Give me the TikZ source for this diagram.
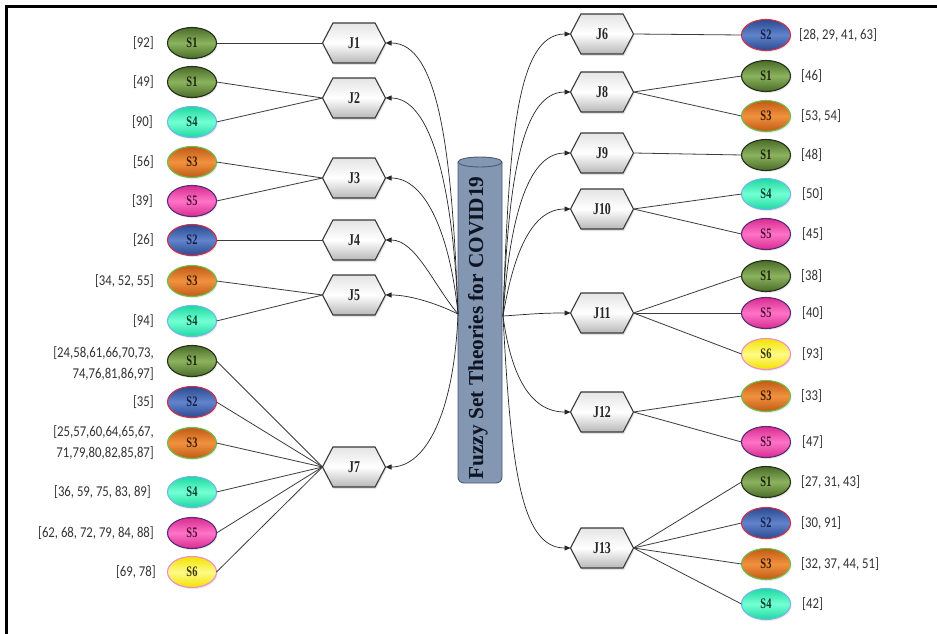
\documentclass[tikz,border=0pt]{standalone}
\usepackage{fontspec}
\setmainfont{Liberation Serif}
\newfontfamily\labelfont{Carlito}[FakeStretch=0.85]
\newfontfamily\condserif{Liberation Serif}[FakeStretch=0.72]
\usetikzlibrary{shapes.geometric,shapes.symbols,arrows.meta,shadows}

% oval palettes: dark rim, light band, edge, text
\definecolor{sAdark}{HTML}{4A6B28}\definecolor{sAlight}{HTML}{8CB35E}\definecolor{sAedge}{HTML}{24301A}\definecolor{sAtext}{HTML}{18220E}
\definecolor{sBdark}{HTML}{2A4A90}\definecolor{sBlight}{HTML}{6284CC}\definecolor{sBedge}{HTML}{D0304A}\definecolor{sBtext}{HTML}{141E46}
\definecolor{sCdark}{HTML}{C05A15}\definecolor{sClight}{HTML}{F0923F}\definecolor{sCedge}{HTML}{6CC04A}\definecolor{sCtext}{HTML}{3E1A06}
\definecolor{sDdark}{HTML}{1ED8A0}\definecolor{sDlight}{HTML}{74FFD4}\definecolor{sDedge}{HTML}{6FB8E8}\definecolor{sDtext}{HTML}{08402A}
\definecolor{sEdark}{HTML}{D82C90}\definecolor{sElight}{HTML}{FF74C6}\definecolor{sEedge}{HTML}{5A2A7A}\definecolor{sEtext}{HTML}{4E0C36}
\definecolor{sFdark}{HTML}{F2E200}\definecolor{sFlight}{HTML}{FFFA88}\definecolor{sFedge}{HTML}{F08CC8}\definecolor{sFtext}{HTML}{3A3A00}
\definecolor{hexTop}{HTML}{E4E4E4}\definecolor{hexBot}{HTML}{B8B8B8}\definecolor{hexEdge}{HTML}{3A3A3A}
\definecolor{cylFill}{HTML}{8397B2}\definecolor{cylEdge}{HTML}{4C5A70}\definecolor{cylText}{HTML}{0E1422}
\definecolor{lblGray}{HTML}{333333}\definecolor{lineGray}{HTML}{3C3C3C}

\begin{document}
\begin{tikzpicture}[x=1pt,y=-1pt,
  oval/.style={ellipse, minimum width=49pt, minimum height=31pt, inner sep=0pt, outer sep=0pt,
    line width=1.1pt, font=\condserif\bfseries\fontsize{14.5}{14.5}\selectfont,
    drop shadow={opacity=0.18, shadow xshift=1pt, shadow yshift=-1.5pt}},
  ovS1/.style={oval, draw=sAedge, top color=sAdark, bottom color=sAdark, middle color=sAlight, text=sAtext},
  ovS2/.style={oval, draw=sBedge, top color=sBdark, bottom color=sBdark, middle color=sBlight, text=sBtext},
  ovS3/.style={oval, draw=sCedge, top color=sCdark, bottom color=sCdark, middle color=sClight, text=sCtext},
  ovS4/.style={oval, draw=sDedge, top color=sDdark, bottom color=sDdark, middle color=sDlight, text=sDtext},
  ovS5/.style={oval, draw=sEedge, top color=sEdark, bottom color=sEdark, middle color=sElight, text=sEtext},
  ovS6/.style={oval, draw=sFedge, top color=sFdark, bottom color=sFdark, middle color=sFlight, text=sFtext},
  hexa/.style={signal, signal to=east and west, signal pointer angle=125,
    minimum width=63pt, minimum height=40pt, inner sep=0pt, outer sep=0pt,
    draw=hexEdge, line width=1.1pt, top color=hexTop, bottom color=hexBot, middle color=white,
    font=\condserif\bfseries\fontsize{16.5}{16.5}\selectfont, text=black!85,
    drop shadow={opacity=0.22, shadow xshift=1pt, shadow yshift=-2pt}},
  lblL/.style={anchor=east, inner sep=0pt, text=lblGray, align=right, font=\labelfont\fontsize{15}{21}\selectfont},
  lblR/.style={anchor=west, inner sep=0pt, text=lblGray, align=left, font=\labelfont\fontsize{15}{21}\selectfont},
  link/.style={draw=lineGray, line width=0.8pt},
  feed/.style={draw=black!85, line width=0.7pt, -{Triangle[length=6pt,width=5pt]}}
]
\useasboundingbox (0,0) rectangle (937,634);
\fill[white] (0,0) rectangle (937,634);

% frame along the top and left edges
\draw[line width=2.6pt, line join=miter] (6.5,634) -- (6.5,6.5) -- (937,6.5);

% central cylinder
\fill[cylFill] (458,162) {[rounded corners=6pt] -- (458,483) -- (502,483)} -- (502,162) -- cycle;
\draw[cylEdge, line width=0.9pt] (458,162) {[rounded corners=6pt] -- (458,483) -- (502,483)} -- (502,162);
\filldraw[fill=cylFill, draw=cylEdge, line width=0.9pt] (480,162) ellipse [x radius=22pt, y radius=5pt];
\node[rotate=90, text=cylText, font=\bfseries\fontsize{21.3}{21.3}\selectfont] (title) at (478,328) {Fuzzy Set Theories for COVID19};
\coordinate (hubL) at (458,314);
\coordinate (hubR) at (503,316);

% left-hand source ovals
\node[ovS1] (L1) at (192,43) {S1};
\node[ovS1] (L2) at (192,82) {S1};
\node[ovS4] (L3) at (192,122) {S4};
\node[ovS3] (L4) at (192,162) {S3};
\node[ovS5] (L5) at (192,201) {S5};
\node[ovS2] (L6) at (192,240) {S2};
\node[ovS3] (L7) at (192,281) {S3};
\node[ovS4] (L8) at (192,321) {S4};
\node[ovS1] (L9) at (192,361) {S1};
\node[ovS2] (L10) at (192,402) {S2};
\node[ovS3] (L11) at (192,443) {S3};
\node[ovS4] (L12) at (192,492) {S4};
\node[ovS5] (L13) at (192,533) {S5};
\node[ovS6] (L14) at (192,572) {S6};

% left-hand reference labels
\node[lblL] (tL1) at (154,43) {[92]};
\node[lblL] (tL2) at (154,82) {[49]};
\node[lblL] (tL3) at (153,122) {[90]};
\node[lblL] (tL4) at (154,162) {[56]};
\node[lblL] (tL5) at (153,201) {[39]};
\node[lblL] (tL6) at (154,240) {[26]};
\node[lblL] (tL7) at (154,281) {[34, 52, 55]};
\node[lblL] (tL8) at (154,321) {[94]};
\node[lblL] (tL9) at (154,363.5) {[24,58,61,66,70,73,\\74,76,81,86,97]};
\node[lblL] (tL10) at (154,402) {[35]};
\node[lblL] (tL11) at (154,442.5) {[25,57,60,64,65,67,\\71,79,80,82,85,87]};
\node[lblL] (tL12) at (151,492) {[36, 59, 75, 83, 89]};
\node[lblL] (tL13) at (154,533) {[62, 68, 72, 79, 84, 88]};
\node[lblL] (tL14) at (156,572) {[69, 78]};

% left-hand hexagons
\node[hexa] (J1) at (354,43) {J1};
\node[hexa] (J2) at (354,98) {J2};
\node[hexa] (J3) at (354,178) {J3};
\node[hexa] (J4) at (354,240) {J4};
\node[hexa] (J5) at (354,295) {J5};
\node[hexa] (J7) at (354,467) {J7};

% right-hand hexagons
\node[hexa] (J6) at (602,34) {J6};
\node[hexa] (J8) at (602,92) {J8};
\node[hexa] (J9) at (602,153) {J9};
\node[hexa] (J10) at (602,209) {J10};
\node[hexa] (J11) at (602,313) {J11};
\node[hexa] (J12) at (602,412) {J12};
\node[hexa] (J13) at (602,548) {J13};

% right-hand source ovals
\node[ovS2] (R1) at (766,35) {S2};
\node[ovS1] (R2) at (766,76) {S1};
\node[ovS3] (R3) at (766,116) {S3};
\node[ovS1] (R4) at (766,155) {S1};
\node[ovS4] (R5) at (766,194) {S4};
\node[ovS5] (R6) at (766,234) {S5};
\node[ovS1] (R7) at (766,276) {S1};
\node[ovS5] (R8) at (766,313) {S5};
\node[ovS6] (R9) at (766,354) {S6};
\node[ovS3] (R10) at (766,396) {S3};
\node[ovS5] (R11) at (766,442) {S5};
\node[ovS1] (R12) at (766,482) {S1};
\node[ovS2] (R13) at (766,523) {S2};
\node[ovS3] (R14) at (766,564) {S3};
\node[ovS4] (R15) at (766,604) {S4};

% right-hand reference labels
\node[lblR] (tR1) at (799,35) {[28, 29, 41, 63]};
\node[lblR] (tR2) at (801,76) {[46]};
\node[lblR] (tR3) at (801,116) {[53, 54]};
\node[lblR] (tR4) at (801,155) {[48]};
\node[lblR] (tR5) at (802,194) {[50]};
\node[lblR] (tR6) at (802,234) {[45]};
\node[lblR] (tR7) at (801,276) {[38]};
\node[lblR] (tR8) at (802,313) {[40]};
\node[lblR] (tR9) at (802,354) {[93]};
\node[lblR] (tR10) at (801,396) {[33]};
\node[lblR] (tR11) at (802,442) {[47]};
\node[lblR] (tR12) at (801,482) {[27, 31, 43]};
\node[lblR] (tR13) at (801,523) {[30, 91]};
\node[lblR] (tR14) at (801,564) {[32, 37, 44, 51]};
\node[lblR] (tR15) at (802,604) {[42]};

% oval-to-hexagon links, left
\draw[link] (L1.east) -- (J1.west);
\draw[link] (L2.east) -- (J2.west);
\draw[link] (L3.east) -- (J2.west);
\draw[link] (L4.east) -- (J3.west);
\draw[link] (L5.east) -- (J3.west);
\draw[link] (L6.east) -- (J4.west);
\draw[link] (L7.east) -- (J5.west);
\draw[link] (L8.east) -- (J5.west);
\foreach \k in {9,...,14} \draw[link] (L\k.east) -- (J7.west);

% hexagon-to-oval links, right
\draw[link] (J6.east) -- (R1.west);
\draw[link] (J8.east) -- (R2.west);
\draw[link] (J8.east) -- (R3.west);
\draw[link] (J9.east) -- (R4.west);
\draw[link] (J10.east) -- (R5.west);
\draw[link] (J10.east) -- (R6.west);
\draw[link] (J11.east) -- (R7.west);
\draw[link] (J11.east) -- (R8.west);
\draw[link] (J11.east) -- (R9.west);
\draw[link] (J12.east) -- (R10.west);
\draw[link] (J12.east) -- (R11.west);
\foreach \k in {12,...,15} \draw[link] (J13.east) -- (R\k.west);

% curved feeds from the cylinder, left
\draw[feed] (hubL) .. controls +(-6,-164) and +(53,0) .. (J1.east);
\draw[feed] (hubL) .. controls +(-5,-130) and +(45,0) .. (J2.east);
\draw[feed] (hubL) .. controls +(-8,-80) and +(40,0) .. (J3.east);
\draw[feed] (hubL) .. controls +(-25,-30) and +(30,0) .. (J4.east);
\draw[feed] (hubL) .. controls +(-20,-10) and +(25,0) .. (J5.east);
\draw[feed] (hubL) .. controls +(-4,100) and +(40,0) .. (J7.east);

% curved feeds from the cylinder, right
\draw[feed] (hubR) .. controls +(6,-170) and +(-55,0) .. (J6.west);
\draw[feed] (hubR) .. controls +(5,-130) and +(-50,0) .. (J8.west);
\draw[feed] (hubR) .. controls +(6,-90) and +(-45,0) .. (J9.west);
\draw[feed] (hubR) .. controls +(10,-60) and +(-40,0) .. (J10.west);
\draw[feed] (hubR) .. controls +(30,-2) and +(-30,0) .. (J11.west);
\draw[feed] (hubR) .. controls +(8,60) and +(-40,0) .. (J12.west);
\draw[feed] (hubR) .. controls +(8,150) and +(-50,0) .. (J13.west);
\end{tikzpicture}
\end{document}
